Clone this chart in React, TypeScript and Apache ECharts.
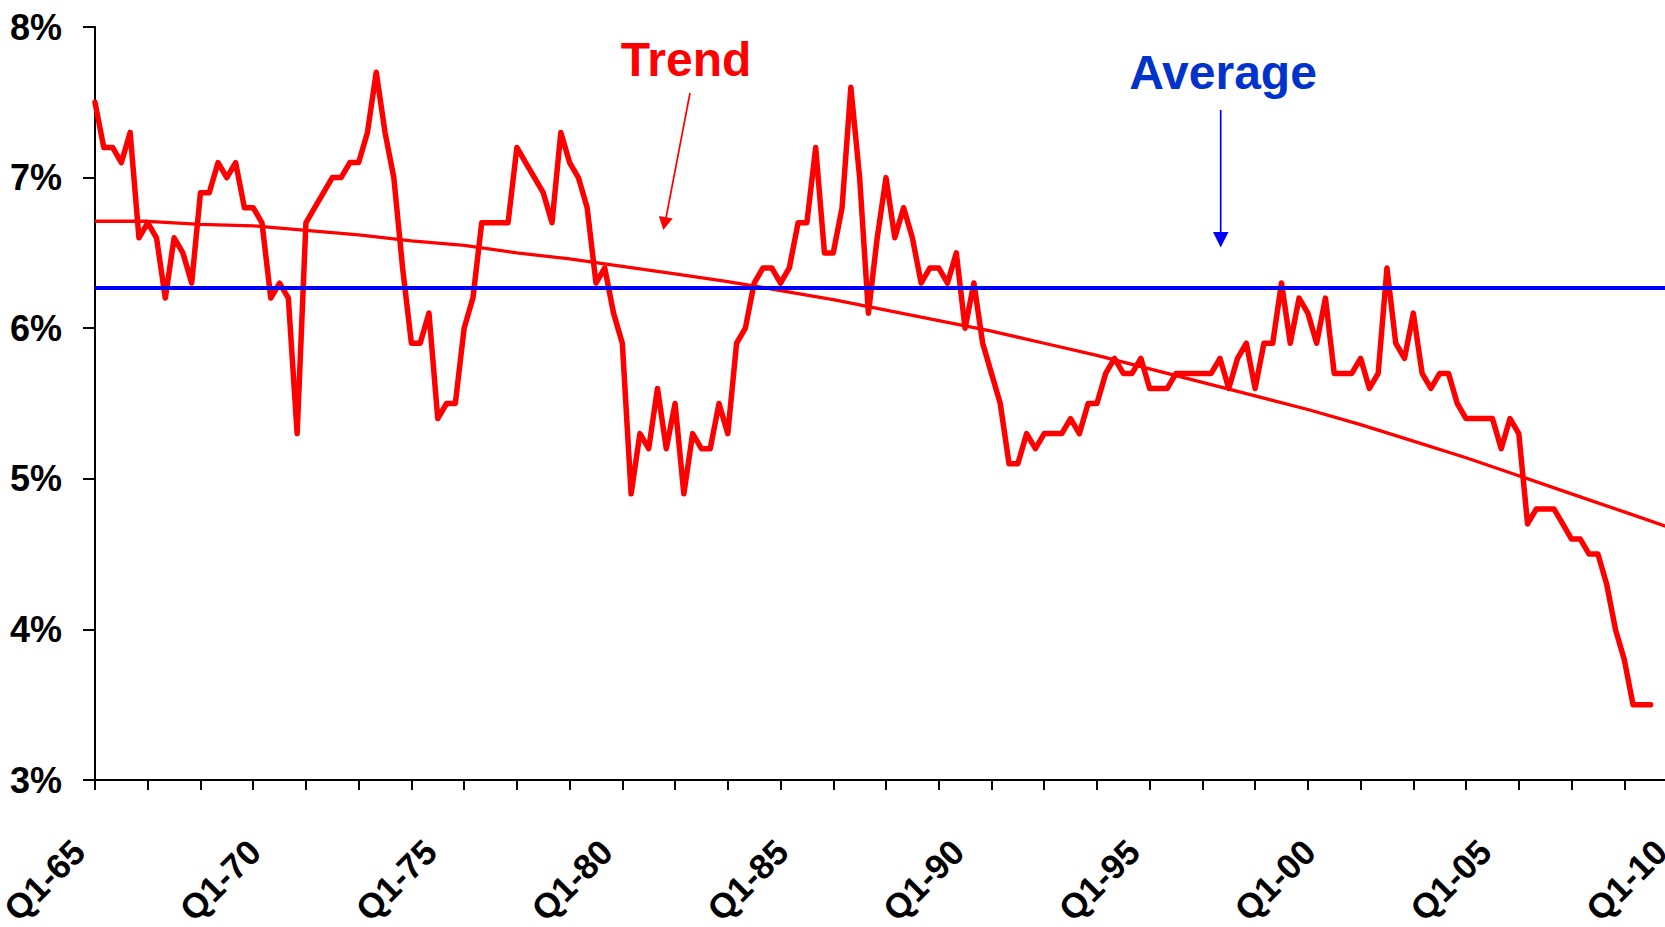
import React, { useEffect, useRef } from "react";
import * as echarts from "echarts";

// Category labels: quarters from Q1-65 to Q1-10
const firstYear = 1965;
const lastYear = 2010;
const quarterLabels: string[] = [];
for (let y = firstYear; y <= lastYear; y++) {
  for (let q = 1; q <= 4; q++) {
    if (y === lastYear && q > 1) break;
    quarterLabels.push(`Q${q}-${String(y % 100).padStart(2, "0")}`);
  }
}

// Quarterly series (%), Q1-65 .. Q2-09
const rateValues: number[] = [
  7.5, 7.2, 7.2, 7.1, 7.3, 6.6, 6.7, 6.6, 6.2, 6.6,
  6.5, 6.3, 6.9, 6.9, 7.1, 7.0, 7.1, 6.8, 6.8, 6.7,
  6.2, 6.3, 6.2, 5.3, 6.7, 6.8, 6.9, 7.0, 7.0, 7.1,
  7.1, 7.3, 7.7, 7.3, 7.0, 6.4, 5.9, 5.9, 6.1, 5.4,
  5.5, 5.5, 6.0, 6.2, 6.7, 6.7, 6.7, 6.7, 7.2, 7.1,
  7.0, 6.9, 6.7, 7.3, 7.1, 7.0, 6.8, 6.3, 6.4, 6.1,
  5.9, 4.9, 5.3, 5.2, 5.6, 5.2, 5.5, 4.9, 5.3, 5.2,
  5.2, 5.5, 5.3, 5.9, 6.0, 6.3, 6.4, 6.4, 6.3, 6.4,
  6.7, 6.7, 7.2, 6.5, 6.5, 6.8, 7.6, 7.0, 6.1, 6.6,
  7.0, 6.6, 6.8, 6.6, 6.3, 6.4, 6.4, 6.3, 6.5, 6.0,
  6.3, 5.9, 5.7, 5.5, 5.1, 5.1, 5.3, 5.2, 5.3, 5.3,
  5.3, 5.4, 5.3, 5.5, 5.5, 5.7, 5.8, 5.7, 5.7, 5.8,
  5.6, 5.6, 5.6, 5.7, 5.7, 5.7, 5.7, 5.7, 5.8, 5.6,
  5.8, 5.9, 5.6, 5.9, 5.9, 6.3, 5.9, 6.2, 6.1, 5.9,
  6.2, 5.7, 5.7, 5.7, 5.8, 5.6, 5.7, 6.4, 5.9, 5.8,
  6.1, 5.7, 5.6, 5.7, 5.7, 5.5, 5.4, 5.4, 5.4, 5.4,
  5.2, 5.4, 5.3, 4.7, 4.8, 4.8, 4.8, 4.7, 4.6, 4.6,
  4.5, 4.5, 4.3, 4.0, 3.8, 3.5, 3.5, 3.5,
];

// Trend curve, read at every sixth quarter
const trendQuarters: string[] = [
  "Q1-65", "Q3-66", "Q1-68", "Q3-69", "Q1-71", "Q3-72", "Q1-74", "Q3-75",
  "Q1-77", "Q3-78", "Q1-80", "Q3-81", "Q1-83", "Q3-84", "Q1-86", "Q3-87",
  "Q1-89", "Q3-90", "Q1-92", "Q3-93", "Q1-95", "Q3-96", "Q1-98", "Q3-99",
  "Q1-01", "Q3-02", "Q1-04", "Q3-05", "Q1-07", "Q3-08", "Q1-10",
];
const trendValues: number[] = [
  6.71, 6.71, 6.69, 6.68, 6.65, 6.62, 6.58, 6.55,
  6.5, 6.46, 6.41, 6.36, 6.31, 6.25, 6.19, 6.12,
  6.05, 5.98, 5.9, 5.82, 5.73, 5.64, 5.55, 5.46,
  5.36, 5.25, 5.14, 5.02, 4.9, 4.78, 4.66,
];

const averageValue = 6.27;

const yTicks = { min: 3, max: 8, step: 1 };

const FONT = "'Liberation Sans', Arial, Helvetica, sans-serif";
const RED = "#FF0000";
const BLUE = "#0000FF";
const LABEL_BLUE = "#0033CC";

export default function App() {
  const ref = useRef<HTMLDivElement>(null);

  useEffect(() => {
    if (!ref.current) return;
    const chart = echarts.init(ref.current, undefined, { renderer: "svg" });

    const option: any = {
      animation: false,
      backgroundColor: "#FFFFFF",
      textStyle: { fontFamily: FONT },
      grid: {
        left: 95,
        top: 27,
        width: 1582,
        height: 753,
        containLabel: false,
        outerBoundsMode: "none",
      },
      xAxis: {
        type: "category",
        data: quarterLabels,
        boundaryGap: false,
        axisLine: { show: true, lineStyle: { color: "#000", width: 2 } },
        axisTick: { show: true, interval: 5, length: 10, lineStyle: { color: "#000", width: 2 } },
        axisLabel: {
          interval: 19,
          rotate: 45,
          margin: 82,
          fontSize: 35,
          lineHeight: 46,
          verticalAlign: "bottom",
          fontWeight: "bold",
          color: "#000",
          fontFamily: FONT,
        },
        splitLine: { show: false },
      },
      yAxis: {
        type: "value",
        min: yTicks.min,
        max: yTicks.max,
        interval: yTicks.step,
        axisLine: { show: true, lineStyle: { color: "#000", width: 2 } },
        axisTick: { show: true, length: 12, lineStyle: { color: "#000", width: 2 } },
        axisLabel: {
          formatter: "{value}%",
          margin: 33,
          fontSize: 36,
          fontWeight: "bold",
          color: "#000",
          fontFamily: FONT,
        },
        splitLine: { show: false },
      },
      series: [
        {
          name: "Average",
          type: "line",
          data: [],
          z: 1,
          markLine: {
            silent: true,
            symbol: ["none", "none"],
            label: { show: false },
            lineStyle: { color: BLUE, width: 4, type: "solid" },
            data: [{ yAxis: averageValue }],
          },
        },
        {
          name: "Trend",
          type: "line",
          data: trendQuarters.map((q, i) => [q, trendValues[i]]),
          symbol: "none",
          z: 2,
          lineStyle: { color: RED, width: 3.3 },
        },
        {
          name: "Rate",
          type: "line",
          data: rateValues,
          symbol: "none",
          z: 3,
          lineStyle: { color: RED, width: 5.5, join: "round", cap: "round" },
        },
      ],
      graphic: [
        {
          type: "text",
          x: 686,
          y: 59,
          style: {
            text: "Trend",
            fill: RED,
            font: `bold 48px ${FONT}`,
            textAlign: "center",
            textVerticalAlign: "middle",
          },
        },
        {
          type: "line",
          shape: { x1: 690, y1: 93, x2: 666, y2: 218 },
          style: { stroke: RED, lineWidth: 1.7 },
        },
        {
          type: "polygon",
          shape: { points: [[663.3, 230], [672.7, 218.6], [658.9, 215.9]] },
          style: { fill: RED },
        },
        {
          type: "text",
          x: 1223,
          y: 72,
          style: {
            text: "Average",
            fill: LABEL_BLUE,
            font: `bold 48px ${FONT}`,
            textAlign: "center",
            textVerticalAlign: "middle",
          },
        },
        {
          type: "line",
          shape: { x1: 1220.7, y1: 110, x2: 1220.7, y2: 234 },
          style: { stroke: BLUE, lineWidth: 1.7 },
        },
        {
          type: "polygon",
          shape: { points: [[1213, 232], [1228.5, 232], [1220.7, 247.5]] },
          style: { fill: BLUE },
        },
      ],
    };

    chart.setOption(option);
    return () => chart.dispose();
  }, []);

  return (
    <div
      ref={ref}
      style={{ position: "fixed", left: 0, top: 0, width: 1665, height: 927, background: "#fff" }}
    />
  );
}
